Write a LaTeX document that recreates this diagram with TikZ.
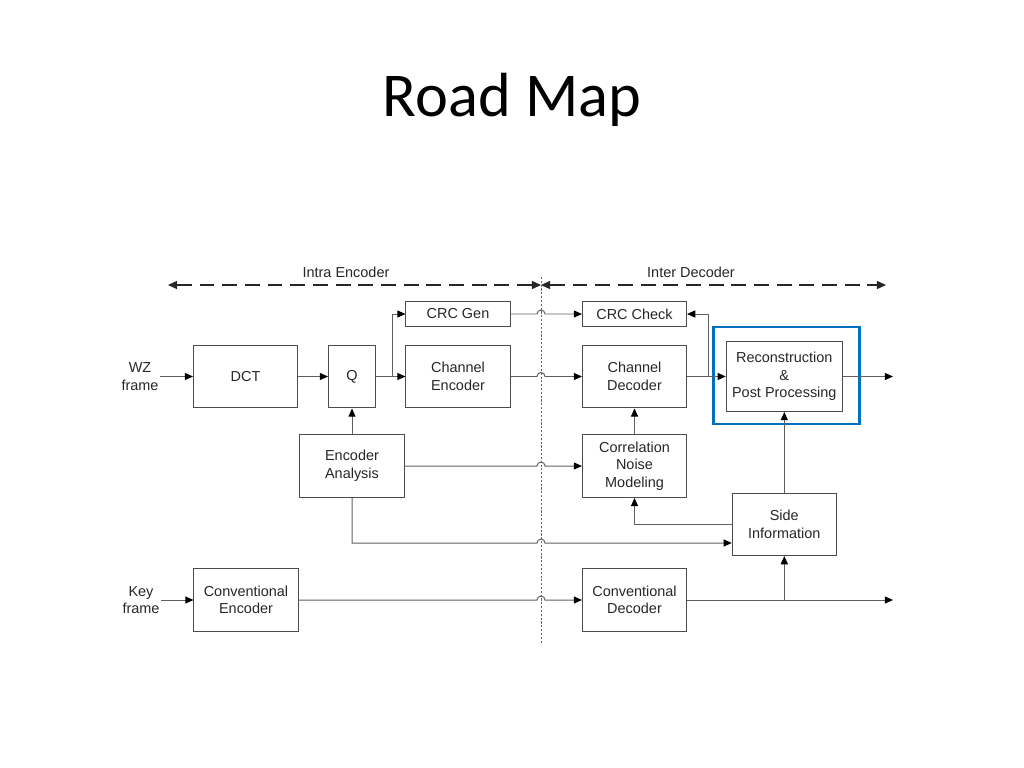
\documentclass[tikz,border=0pt]{standalone}
\usepackage{fontspec}
\setmainfont{Liberation Sans}
\newfontfamily\titlefont{Carlito}
\usepackage{xcolor}
\usepackage{tikz}
\usetikzlibrary{
  arrows.meta,
  positioning,
  calc
}
\definecolor{hiblue}{RGB}{0,112,192}
\definecolor{wirecol}{RGB}{95,95,95}

\begin{document}
\begin{tikzpicture}[
  x=0.0248cm, y=-0.0248cm,
  every node/.style={font=\fontsize{10.2}{12.4}\selectfont, text=black!85},
  blk/.style={draw=black!70, line width=0.7pt, align=center, inner sep=1pt,
    minimum width=2.58cm, minimum height=1.56cm},
  slim/.style={blk, minimum height=0.61cm},
  lab/.style={align=center, inner sep=1pt},
  wire/.style={draw=wirecol, line width=0.7pt},
  arr/.style={wire, -{Triangle[length=5.8pt, width=5pt, color=black]}},
  span/.style={draw=black!85, line width=0.9pt, dash pattern=on 10.5pt off 5.5pt,
    {Triangle[length=6.5pt, width=5.8pt]}-{Triangle[length=6.5pt, width=5.8pt]}},
  split/.style={draw=black!60, line width=0.6pt, dash pattern=on 1.5pt off 1.2pt},
  hop/.style={insert path={-- (537,#1) arc[start angle=180, end angle=360, radius=4]}}
]
  \useasboundingbox (0,0) rectangle (1024,768);

  % title
  \node[font=\titlefont\fontsize{44}{50}\selectfont, text=black, anchor=base] (title) at (512,117) {Road Map};

  % encoder / decoder spans
  \coordinate (spanl) at (168,285);
  \coordinate (spanm) at (541,285);
  \coordinate (spanr) at (886,285);
  \draw[span] (spanl) -- (spanm);
  \draw[span] (spanm) -- (spanr);
  \node[lab] (intra) at (346,272) {Intra Encoder};
  \node[lab] (inter) at (691,272) {Inter Decoder};
  \coordinate (septop) at (541,277);
  \coordinate (sepbot) at (541,643);
  \draw[split] (septop) -- (sepbot);

  % encoder blocks
  \node[lab] (wz) at (140,376.5) {WZ\\frame};
  \node[blk] (dct) at (245.5,376.5) {DCT};
  \node[blk, minimum width=1.166cm] (q) at (352,376.5) {Q};
  \node[slim] (crcgen) at (458,314) {CRC Gen};
  \node[blk] (chenc) at (458,376.5) {Channel\\Encoder};
  \node[blk] (encan) at (352,466) {Encoder\\Analysis};
  \node[lab] (key) at (141,600) {Key\\frame};
  \node[blk] (conenc) at (246,600) {Conventional\\Encoder};

  % decoder blocks
  \node[slim] (crcchk) at (634.5,314) {CRC Check};
  \node[blk] (chdec) at (634.5,376.5) {Channel\\Decoder};
  \node[blk, minimum width=2.877cm, minimum height=1.736cm] (rec) at (784.3,376.5) {Reconstruction\\\&\\Post Processing};
  \node[blk] (cnm) at (634.5,466) {Correlation\\Noise\\Modeling};
  \node[blk, minimum height=1.54cm] (si) at (784.3,524.5) {Side\\Information};
  \node[blk] (condec) at (634.5,600) {Conventional\\Decoder};

  % highlight
  \draw[hiblue, line width=2.1pt] (713,327) rectangle (859,424);

  % WZ path
  \draw[arr] (wz) -- (dct);
  \draw[arr] (dct) -- (q);
  \coordinate (qsplit) at (392,376.5);
  \draw[wire] (q) -- (qsplit);
  \draw[arr] (qsplit) -- (chenc);
  \draw[arr] (qsplit) |- (crcgen);
  \draw[arr] (crcgen.east) [hop=314] -- (crcchk.west);
  \draw[arr] (chenc.east) [hop=376.5] -- (chdec.west);
  \coordinate (dsplit) at (708,376.5);
  \draw[wire] (chdec) -- (dsplit);
  \draw[arr] (dsplit) -- (rec);
  \draw[arr] (dsplit) |- (crcchk);
  \coordinate (wzout) at (893,376.5);
  \draw[arr] (rec) -- (wzout);

  % analysis and side information
  \draw[arr] (encan) -- (q);
  \draw[arr] (encan.east) [hop=466] -- (cnm.west);
  \coordinate (eabend) at (352,543);
  \draw[arr] (encan.south) -- (eabend) [hop=543] -- (si.west |- eabend);
  \draw[arr] (si.west) -| (cnm.south);
  \draw[arr] (cnm) -- (chdec);
  \draw[arr] (si) -- (rec);

  % key frame path
  \draw[arr] (key) -- (conenc);
  \draw[arr] (conenc.east) [hop=600] -- (condec.west);
  \coordinate (keyout) at (893,600);
  \coordinate (ksplit) at (784.3,600);
  \draw[arr] (condec) -- (keyout);
  \draw[arr] (ksplit) -- (si);

\end{tikzpicture}
\end{document}
